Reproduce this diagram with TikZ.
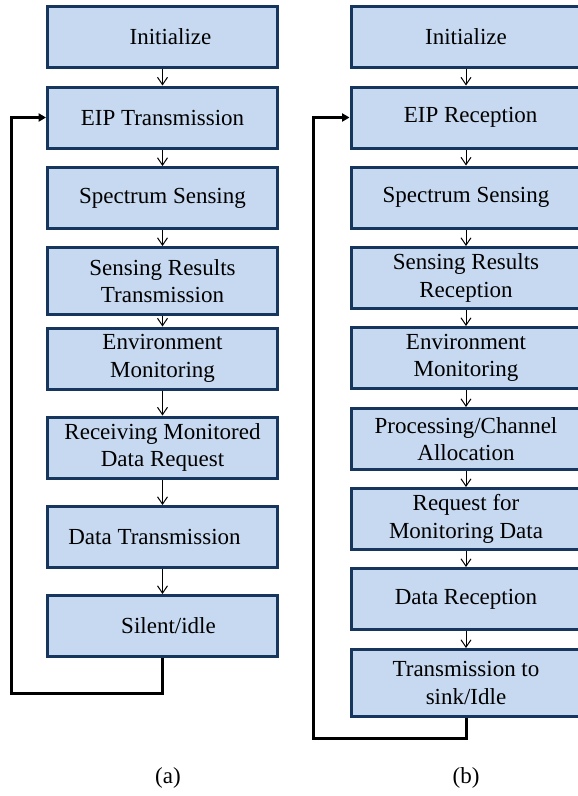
\documentclass[tikz,border=0pt]{standalone}
\usepackage{fontspec}
\setmainfont{Liberation Serif}
\newfontfamily\stagefont{Liberation Serif}
\usetikzlibrary{arrows.meta}
\definecolor{boxfill}{RGB}{198,217,241}
\definecolor{boxedge}{RGB}{23,54,93}

\begin{document}
\begin{tikzpicture}[x=0.75pt, y=-0.75pt, % pixel coordinates, y downwards
    stagebox/.style={draw=boxedge, fill=boxfill, line width=2.25pt, minimum width=172.5pt,
      minimum height=45.75pt, inner sep=0pt, align=center, font=\stagefont\fontsize{17.25}{20.7}\selectfont},
    tallbox/.style={stagebox, minimum height=50.25pt},
    flow/.style={line width=0.75pt, -{Straight Barb[length=5.5pt,width=7.5pt]}},
    loopline/.style={line width=2.25pt, -{Triangle[length=5.5pt,width=6pt]}},
    caption/.style={font=\stagefont\fontsize{17.25}{20.7}\selectfont}]

    \useasboundingbox (0,0) rectangle (578,796);

    % Left column (a)
    \node[stagebox] (inita) at (162.5,37) {\hspace*{12pt}Initialize};
    \node[stagebox] (eipa) at (162.5,117.5) {EIP Transmission};
    \node[stagebox] (sensa) at (162.5,198) {Spectrum Sensing};
    \node[tallbox] (resa) at (162.5,281) {Sensing Results\\Transmission};
    \node[stagebox] (enva) at (162.5,358.5) {Environment\\Monitoring};
    \node[stagebox] (reqa) at (162.5,447.5) {Receiving Monitored\\Data Request};
    \node[stagebox] (data) at (162.5,537) {Data Transmission\hspace*{12pt}};
    \node[stagebox] (sila) at (162.5,626) {\hspace*{9pt}Silent/idle};

    % Right column (b)
    \node[stagebox] (initb) at (466,37) {Initialize};
    \node[stagebox] (eipb) at (466,117.5) {\hspace*{7pt}EIP Reception};
    \node[stagebox] (sensb) at (466,197.5) {Spectrum Sensing};
    \node[stagebox] (resb) at (466,278) {Sensing Results\\Reception};
    \node[stagebox] (envb) at (466,358) {Environment\\Monitoring};
    \node[stagebox] (procb) at (466,439) {Processing/Channel\\Allocation};
    \node[stagebox] (reqb) at (466,519) {Request for\\Monitoring Data};
    \node[stagebox] (datb) at (466,599) {Data Reception};
    \node[tallbox] (sinkb) at (466,683) {Transmission to\\sink/Idle};

    % Flow arrows
    \foreach \a/\b in {inita/eipa, eipa/sensa, sensa/resa, resa/enva, enva/reqa, reqa/data, data/sila,
        initb/eipb, eipb/sensb, sensb/resb, resb/envb, envb/procb, procb/reqb, reqb/datb, datb/sinkb}
      \draw[flow] (\a.south) -- (\b.north);

    % Feedback loops
    \coordinate (turna) at (11,693);
    \coordinate (turnb) at (313,738);
    \draw[loopline] (sila.south) -- (sila.south |- turna) -- (turna) |- (eipa.west);
    \draw[loopline] (sinkb.south) -- (sinkb.south |- turnb) -- (turnb) |- (eipb.west);

    % Captions
    \node[caption] (capa) at (168,778) {(a)};
    \node[caption] (capb) at (466,778) {(b)};

\end{tikzpicture}
\end{document}
